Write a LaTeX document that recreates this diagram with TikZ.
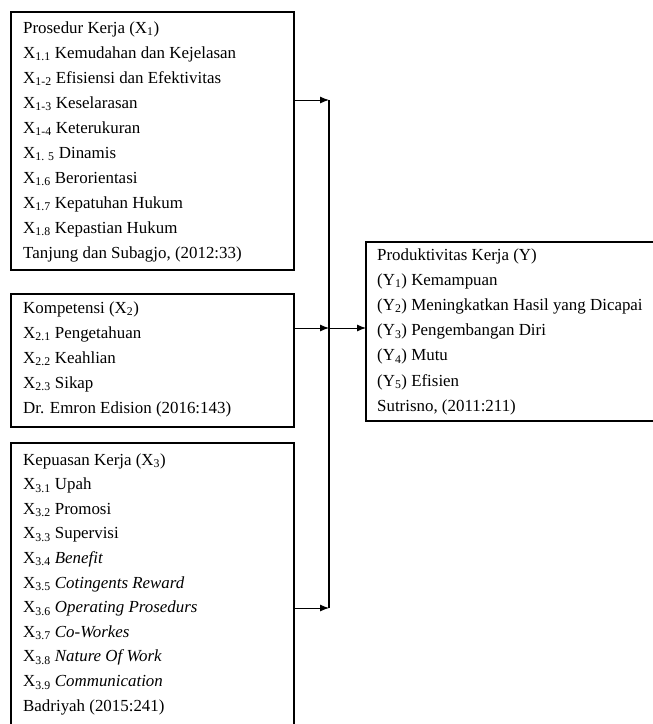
\documentclass[tikz,border=0pt]{standalone}
\usepackage{fontspec}
\setmainfont{Liberation Serif}
\usetikzlibrary{arrows.meta}
\newcommand\dfont{\fontsize{16.9}{20}\selectfont}
\tikzset{
  box/.style={draw, line width=1.3pt, inner sep=0pt, outer sep=0pt, anchor=north west},
  txt/.style={anchor=base west, inner sep=0pt, font=\dfont},
  conn/.style={draw, line width=0.9pt},
  arr/.style={conn, -{Latex[length=9pt,width=7pt]}},
  bus/.style={draw, line width=1.3pt}
}
\begin{document}
\begin{tikzpicture}[x=1pt,y=-1pt]
\useasboundingbox (0,0) rectangle (653,724);
% boxes
\node[box, minimum width=283pt, minimum height=258pt] (x1) at (11,12) {};
\node[box, minimum width=283pt, minimum height=133pt] (x2) at (11,294) {};
\node[box, minimum width=283pt, minimum height=290pt] (x3) at (11,443) {};
\node[box, minimum width=300pt, minimum height=179pt] (y) at (366,242) {};
% texts
\foreach \t [count=\i from 0] in {
  {Prosedur Kerja (X\textsubscript{1})},
  {X\textsubscript{1.1} Kemudahan dan Kejelasan},
  {X\textsubscript{1-2} Efisiensi dan Efektivitas},
  {X\textsubscript{1-3} Keselarasan},
  {X\textsubscript{1-4} Keterukuran},
  {X\textsubscript{1. 5} Dinamis},
  {X\textsubscript{1.6} Berorientasi},
  {X\textsubscript{1.7} Kepatuhan Hukum},
  {X\textsubscript{1.8} Kepastian Hukum},
  {Tanjung dan Subagjo, (2012:33)}}
  \node[txt] (xa\i) at (23,33+25*\i) {\t};
\foreach \t [count=\i from 0] in {
  {Kompetensi (X\textsubscript{2})},
  {X\textsubscript{2.1} Pengetahuan},
  {X\textsubscript{2.2} Keahlian},
  {X\textsubscript{2.3} Sikap},
  {Dr. Emron Edision (2016:143)}}
  \node[txt] (xb\i) at (23,313+25*\i) {\t};
\foreach \t [count=\i from 0] in {
  {Kepuasan Kerja (X\textsubscript{3})},
  {X\textsubscript{3.1} Upah},
  {X\textsubscript{3.2} Promosi},
  {X\textsubscript{3.3} Supervisi},
  {X\textsubscript{3.4} \textit{Benefit}},
  {X\textsubscript{3.5} \textit{Cotingents Reward}},
  {X\textsubscript{3.6} \textit{Operating Prosedurs}},
  {X\textsubscript{3.7} \textit{Co-Workes}},
  {X\textsubscript{3.8} \textit{Nature Of Work}},
  {X\textsubscript{3.9} \textit{Communication}},
  {Badriyah (2015:241)}}
  \node[txt] (xc\i) at (23,465+24.6*\i) {\t};
\foreach \t [count=\i from 0] in {
  {Produktivitas Kerja (Y)},
  {(Y\textsubscript{1}) Kemampuan},
  {(Y\textsubscript{2}) Meningkatkan Hasil yang Dicapai},
  {(Y\textsubscript{3}) Pengembangan Diri},
  {(Y\textsubscript{4}) Mutu},
  {(Y\textsubscript{5}) Efisien},
  {Sutrisno, (2011:211)}}
  \node[txt] (yt\i) at (377,260+25.2*\i) {\t};
% connectors
\coordinate (b1) at (329,100);
\coordinate (b2) at (329,328);
\coordinate (b3) at (329,608);
\draw[bus] (b1) -- (b3);
\draw[arr] (x1.east |- b1) -- (b1);
\draw[arr] (x2.east |- b2) -- (b2);
\draw[arr] (x3.east |- b3) -- (b3);
\draw[arr] (b2) -- (y.west |- b2);
\end{tikzpicture}
\end{document}
